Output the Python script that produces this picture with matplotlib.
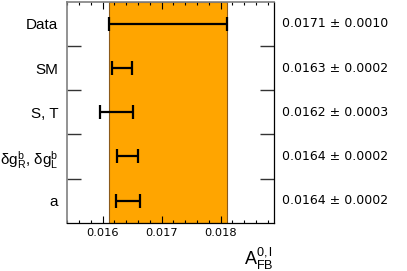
import matplotlib

matplotlib.use("Agg")

import matplotlib.pyplot as plt
from matplotlib.ticker import MultipleLocator, FixedLocator
import matplotlib.transforms as mtransforms

# данные
labels = ["Data", "SM", "S, T",
          r"δg$\mathregular{^b_R}$, δg$\mathregular{^b_L}$", "a"]
centers = [0.0171, 0.01633, 0.01623, 0.01642, 0.01643]
errors = [0.0010, 0.00017, 0.00028, 0.00018, 0.00020]
value_text = ["0.0171 ± 0.0010", "0.0163 ± 0.0002", "0.0162 ± 0.0003",
              "0.0164 ± 0.0002", "0.0164 ± 0.0002"]
band_center = 0.0171
band_err = 0.0010

plt.rcParams["font.family"] = ["Liberation Sans", "DejaVu Sans"]
plt.rcParams["mathtext.fontset"] = "custom"
plt.rcParams["mathtext.rm"] = "Liberation Sans"
plt.rcParams["mathtext.it"] = "Liberation Sans"

fig = plt.figure(figsize=(4.07, 2.71), dpi=100)
ax = fig.add_axes([0.1639, 0.1782, 0.5100, 0.8155])

ys = list(range(len(labels)))

ax.axvspan(band_center - band_err, band_center + band_err,
           facecolor="#ffa500", edgecolor="#8b5a1a", linewidth=0.8, zorder=1)

ax.errorbar(centers, ys, xerr=errors, fmt="none", ecolor="black",
            elinewidth=1.6, capsize=5.2, capthick=1.6, zorder=3)

ax.set_xlim(0.01539, 0.01891)
ax.set_ylim(len(labels) - 0.5, -0.5)

ax.xaxis.set_major_locator(MultipleLocator(0.001))
ax.xaxis.set_minor_locator(MultipleLocator(0.0002))
ax.tick_params(axis="x", which="major", direction="in", length=5, width=0.8,
               top=True, labelsize=8.2, pad=4)
ax.tick_params(axis="x", which="minor", direction="in", length=2.5, width=0.8,
               top=True)
for lab in ax.get_xticklabels():
    lab.set_family("DejaVu Sans")

ax.set_yticks(ys)
ax.set_yticklabels(labels, fontsize=11)
ax.yaxis.set_minor_locator(FixedLocator([y + 0.5 for y in ys[:-1]]))
ax.tick_params(axis="y", which="major", length=0, pad=6)
ax.tick_params(axis="y", which="minor", direction="in", length=10, width=1,
               right=True, left=True, color="#333333")

for side in ["left", "top"]:
    ax.spines[side].set_color("#808080")
    ax.spines[side].set_linewidth(1.2)
for side in ["right", "bottom"]:
    ax.spines[side].set_color("black")
    ax.spines[side].set_linewidth(0.9)

trans = mtransforms.blended_transform_factory(ax.transAxes, ax.transData)
for y, txt in zip(ys, value_text):
    ax.text(1.035, y, txt, transform=trans, fontsize=9, va="center",
            ha="left", family="DejaVu Sans")

fig.text(274 / 407, 1 - 265 / 271, r"$\mathregular{A^{0,l}_{FB}}$",
         fontsize=13, ha="right", va="baseline")

fig.savefig("out.png", dpi=100)
